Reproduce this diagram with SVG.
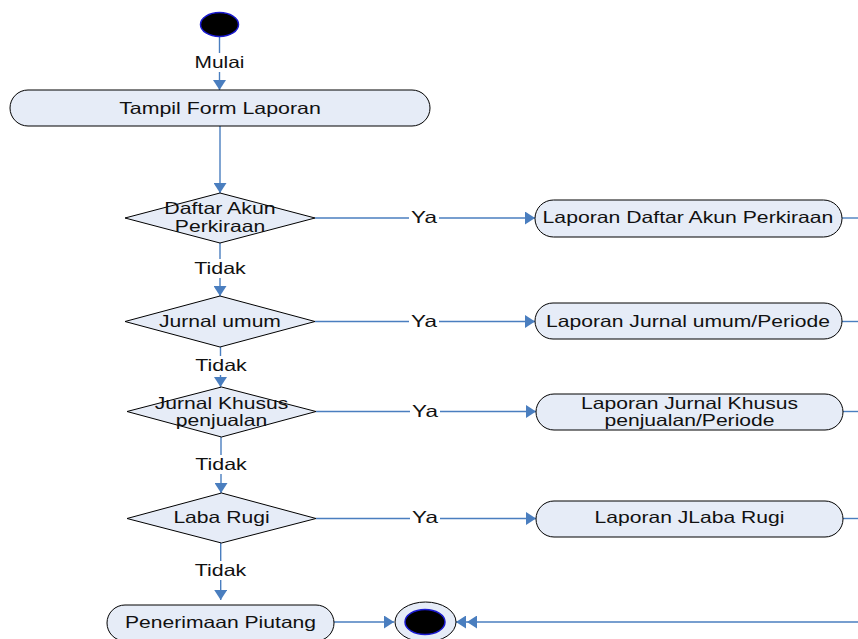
<svg xmlns="http://www.w3.org/2000/svg" width="858" height="639" viewBox="0 0 858 639">
  <style>
    .node { fill: #E6ECF7; stroke: #000; stroke-width: 1; }
    .edge { stroke: #4A7EBF; stroke-width: 1.4; fill: none; }
    .lbl { font-family: "Liberation Sans", Arial, sans-serif; font-size: 16.5px; fill: #111; text-anchor: middle; }
    .bg { fill: #fff; }
  </style>
  <defs>
    <marker id="arr" viewBox="0 0 10 13" refX="10" refY="6.5" markerWidth="10" markerHeight="13" markerUnits="userSpaceOnUse" orient="auto">
      <path d="M0,0 L10,6.5 L0,13 Z" fill="#4A7EBF"/>
    </marker>
    <marker id="arr2" viewBox="0 0 21 13" refX="21" refY="6.5" markerWidth="21" markerHeight="13" markerUnits="userSpaceOnUse" orient="auto">
      <path d="M0,0 L10,6.5 L0,13 Z M11,0 L21,6.5 L11,13 Z" fill="#4A7EBF"/>
    </marker>
  </defs>

  <rect width="858" height="639" fill="#fff"/>

  <!-- connectors -->
  <g id="connectors">
    <line class="edge" x1="219.5" y1="36" x2="219.5" y2="90" marker-end="url(#arr)"/>
    <line class="edge" x1="220" y1="126" x2="220" y2="193" marker-end="url(#arr)"/>

    <line class="edge" x1="315" y1="218" x2="535" y2="218" marker-end="url(#arr)"/>
    <line class="edge" x1="220" y1="243" x2="220" y2="296" marker-end="url(#arr)"/>

    <line class="edge" x1="315" y1="321.5" x2="535" y2="321.5" marker-end="url(#arr)"/>
    <line class="edge" x1="220.5" y1="347" x2="220.5" y2="387" marker-end="url(#arr)"/>

    <line class="edge" x1="316" y1="411.5" x2="536" y2="411.5" marker-end="url(#arr)"/>
    <line class="edge" x1="221" y1="437" x2="221" y2="493" marker-end="url(#arr)"/>

    <line class="edge" x1="316" y1="518.5" x2="536" y2="518.5" marker-end="url(#arr)"/>
    <line class="edge" x1="220.7" y1="543" x2="220.7" y2="600" marker-end="url(#arr)"/>

    <line class="edge" x1="334" y1="622" x2="394" y2="622" marker-end="url(#arr)"/>
    <line class="edge" x1="858" y1="622" x2="456" y2="622" marker-end="url(#arr2)"/>

    <!-- outgoing lines from the reports to the right-hand return path -->
    <line class="edge" x1="842" y1="218" x2="858" y2="218"/>
    <line class="edge" x1="842" y1="321.5" x2="858" y2="321.5"/>
    <line class="edge" x1="843" y1="411.5" x2="858" y2="411.5"/>
    <line class="edge" x1="843" y1="518.5" x2="858" y2="518.5"/>

    <!-- edge labels -->
    <rect class="bg" x="193" y="53" width="53" height="19"/>
    <text class="lbl" x="219.5" y="68.3" textLength="50" lengthAdjust="spacingAndGlyphs">Mulai</text>

    <rect class="bg" x="409" y="209" width="30" height="18"/>
    <text class="lbl" x="424" y="223.3" textLength="25.8" lengthAdjust="spacingAndGlyphs">Ya</text>
    <rect class="bg" x="409" y="312" width="30" height="18"/>
    <text class="lbl" x="424" y="326.5" textLength="25.8" lengthAdjust="spacingAndGlyphs">Ya</text>
    <rect class="bg" x="410" y="402" width="30" height="18"/>
    <text class="lbl" x="425" y="416.7" textLength="25.8" lengthAdjust="spacingAndGlyphs">Ya</text>
    <rect class="bg" x="410" y="509" width="30" height="18"/>
    <text class="lbl" x="425" y="523.3" textLength="25.8" lengthAdjust="spacingAndGlyphs">Ya</text>

    <rect class="bg" x="193" y="259" width="55" height="19"/>
    <text class="lbl" x="220" y="274.3" textLength="51.6" lengthAdjust="spacingAndGlyphs">Tidak</text>
    <rect class="bg" x="194" y="356" width="55" height="19"/>
    <text class="lbl" x="221" y="371" textLength="51.6" lengthAdjust="spacingAndGlyphs">Tidak</text>
    <rect class="bg" x="194" y="455" width="55" height="19"/>
    <text class="lbl" x="221" y="470" textLength="51.6" lengthAdjust="spacingAndGlyphs">Tidak</text>
    <rect class="bg" x="193" y="561" width="55" height="19"/>
    <text class="lbl" x="220.5" y="576" textLength="51.6" lengthAdjust="spacingAndGlyphs">Tidak</text>
  </g>

  <!-- start -->
  <g id="start">
    <ellipse cx="219.5" cy="24.5" rx="19" ry="12" fill="#000" stroke="#1A1AD0" stroke-width="1.5"/>
  </g>

  <g id="tampil-form">
    <rect class="node" x="10" y="90" width="420" height="36" rx="18" ry="18"/>
    <text class="lbl" x="220" y="113.5" textLength="201.7" lengthAdjust="spacingAndGlyphs">Tampil Form Laporan</text>
  </g>

  <g id="dec-daftar-akun">
    <polygon class="node" points="220,193 315,218 220,243 125,218"/>
    <text class="lbl" x="220" y="214" textLength="111.4" lengthAdjust="spacingAndGlyphs">Daftar Akun</text>
    <text class="lbl" x="220" y="231.5" textLength="90.3" lengthAdjust="spacingAndGlyphs">Perkiraan</text>
  </g>

  <g id="dec-jurnal-umum">
    <polygon class="node" points="220,296 315,321.5 220,347 125,321.5"/>
    <text class="lbl" x="220" y="326.5" textLength="121.9" lengthAdjust="spacingAndGlyphs">Jurnal umum</text>
  </g>

  <g id="dec-jurnal-khusus">
    <polygon class="node" points="221.5,387 316,411.5 221.5,437 127,411.5"/>
    <text class="lbl" x="221.5" y="409" textLength="133.7" lengthAdjust="spacingAndGlyphs">Jurnal Khusus</text>
    <text class="lbl" x="221.5" y="425.5" textLength="91.5" lengthAdjust="spacingAndGlyphs">penjualan</text>
  </g>

  <g id="dec-laba-rugi">
    <polygon class="node" points="221.5,493 316,518.5 221.5,543 127,518.5"/>
    <text class="lbl" x="221.5" y="523.3" textLength="96.2" lengthAdjust="spacingAndGlyphs">Laba Rugi</text>
  </g>

  <g id="lap-daftar-akun">
    <rect class="node" x="535" y="200" width="307" height="37" rx="18.5" ry="18.5"/>
    <text class="lbl" x="688" y="223.3" textLength="290.8" lengthAdjust="spacingAndGlyphs">Laporan Daftar Akun Perkiraan</text>
  </g>

  <g id="lap-jurnal-umum">
    <rect class="node" x="535" y="303" width="307" height="36" rx="18" ry="18"/>
    <text class="lbl" x="688" y="326.7" textLength="283.8" lengthAdjust="spacingAndGlyphs">Laporan Jurnal umum/Periode</text>
  </g>

  <g id="lap-jurnal-khusus">
    <rect class="node" x="536" y="394" width="307" height="36" rx="18" ry="18"/>
    <text class="lbl" x="689.5" y="409" textLength="217" lengthAdjust="spacingAndGlyphs">Laporan Jurnal Khusus</text>
    <text class="lbl" x="689.5" y="425.5" textLength="170" lengthAdjust="spacingAndGlyphs">penjualan/Periode</text>
  </g>

  <g id="lap-laba-rugi">
    <rect class="node" x="536" y="501" width="307" height="36" rx="18" ry="18"/>
    <text class="lbl" x="689.5" y="523.3" textLength="190" lengthAdjust="spacingAndGlyphs">Laporan JLaba Rugi</text>
  </g>

  <g id="penerimaan-piutang">
    <rect class="node" x="107" y="605" width="227" height="36" rx="18" ry="18"/>
    <text class="lbl" x="220.5" y="627.7" textLength="191.2" lengthAdjust="spacingAndGlyphs">Penerimaan Piutang</text>
  </g>

  <!-- end -->
  <g id="end">
    <ellipse class="node" cx="425.5" cy="622" rx="30.5" ry="20"/>
    <ellipse cx="425" cy="622" rx="20" ry="12.5" fill="#000" stroke="#1A1AD0" stroke-width="1.5"/>
  </g>
</svg>
